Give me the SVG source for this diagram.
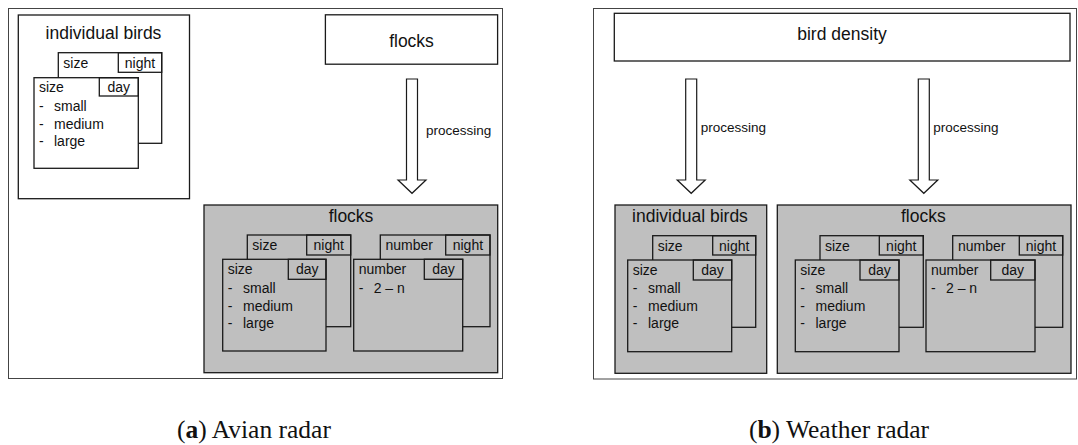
<svg xmlns="http://www.w3.org/2000/svg" width="1078" height="445" viewBox="0 0 1078 445">
<style>
text{font-family:"Liberation Sans",Arial,sans-serif;fill:#111}
.frame{fill:none;stroke:#444;stroke-width:1}
.box{fill:#fff;stroke:#1a1a1a;stroke-width:1.3}
.gbox{fill:#bfbfbf;stroke:#1a1a1a;stroke-width:1.3}
.cw{fill:#fff;stroke:#1a1a1a;stroke-width:1.3}
.cg{fill:#bfbfbf;stroke:#1a1a1a;stroke-width:1.3}
.tab{fill:none;stroke:#1a1a1a;stroke-width:1.3}
.title{font-size:17.5px;text-anchor:middle}
.t{font-size:14px}
.tc{font-size:14px;text-anchor:middle}
.proc{font-size:13.5px}
.arrow{fill:#fff;stroke:#1a1a1a;stroke-width:1.2}
.cap{font-family:"Liberation Serif","Times New Roman",serif;font-size:25.5px;text-anchor:middle}
</style>

<rect class="frame" x="8.5" y="8.5" width="494" height="370"/>
<rect class="frame" x="593.5" y="8.5" width="483" height="370.5"/>

<!-- Panel a -->
<g id="a-individual-birds">
<rect class="box" x="18.3" y="15" width="171.2" height="183.7"/>
<text class="title" x="103.5" y="38.6">individual birds</text>
<rect class="cw" x="58.3" y="52.7" width="103.4" height="90.6"/>
<rect class="tab" x="118.3" y="52.7" width="43.4" height="19.6"/>
<text class="t" x="63.3" y="67.5">size</text>
<text class="tc" x="140" y="67.5">night</text>
<rect class="cw" x="34" y="77.7" width="104.3" height="90.6"/>
<rect class="tab" x="99.3" y="77.7" width="39" height="18.3"/>
<text class="t" x="39" y="92">size</text>
<text class="tc" x="118.8" y="92">day</text>
<text class="t" x="39" y="110.7">-</text><text class="t" x="54" y="110.7">small</text>
<text class="t" x="39" y="128.5">-</text><text class="t" x="54" y="128.5">medium</text>
<text class="t" x="39" y="145.5">-</text><text class="t" x="54" y="145.5">large</text>
</g>

<g id="a-flocks-top">
<rect class="box" x="325.4" y="14.8" width="172.2" height="49.4"/>
<text class="title" x="411.5" y="46.5">flocks</text>
</g>

<g id="a-flocks-result">
<rect class="gbox" x="204" y="205" width="293.7" height="167.7"/>
<text class="title" x="351" y="222.3">flocks</text>
<rect class="cg" x="247.3" y="235" width="103.4" height="91.7"/>
<rect class="tab" x="306.7" y="235" width="44" height="20"/>
<text class="t" x="252.3" y="250">size</text>
<text class="tc" x="328.7" y="250">night</text>
<rect class="cg" x="222.7" y="259.3" width="103.3" height="91.7"/>
<rect class="tab" x="288.3" y="259.3" width="37.7" height="20"/>
<text class="t" x="227.7" y="274.3">size</text>
<text class="tc" x="307.2" y="274.3">day</text>
<text class="t" x="227.7" y="292.7">-</text><text class="t" x="243" y="292.7">small</text>
<text class="t" x="227.7" y="310.5">-</text><text class="t" x="243" y="310.5">medium</text>
<text class="t" x="227.7" y="327.5">-</text><text class="t" x="243" y="327.5">large</text>
<rect class="cg" x="380.3" y="235" width="109.7" height="91.7"/>
<rect class="tab" x="445.7" y="235" width="44.3" height="20"/>
<text class="t" x="385.5" y="250">number</text>
<text class="tc" x="467.9" y="250">night</text>
<rect class="cg" x="353.7" y="259.3" width="109" height="91.7"/>
<rect class="tab" x="424.3" y="259.3" width="38.4" height="20"/>
<text class="t" x="358.7" y="274.3">number</text>
<text class="tc" x="443.5" y="274.3">day</text>
<text class="t" x="358.7" y="292.7">-</text><text class="t" x="373.7" y="292.7">2 – n</text>
</g>

<!-- Panel b -->
<g id="b-bird-density">
<rect class="box" x="614.3" y="13.3" width="455.7" height="47.7"/>
<text class="title" x="842" y="40">bird density</text>
</g>

<g id="b-individual-birds">
<rect class="gbox" x="615" y="205" width="151.7" height="168.3"/>
<text class="title" x="690" y="222.3">individual birds</text>
<rect class="cg" x="652.7" y="235.7" width="103" height="91.6"/>
<rect class="tab" x="712.7" y="235.7" width="43" height="19.3"/>
<text class="t" x="657.7" y="250.5">size</text>
<text class="tc" x="734.2" y="250.5">night</text>
<rect class="cg" x="627.7" y="260" width="104" height="91.7"/>
<rect class="tab" x="693.3" y="260" width="38.4" height="20"/>
<text class="t" x="632.7" y="275">size</text>
<text class="tc" x="712.5" y="275">day</text>
<text class="t" x="632.7" y="293">-</text><text class="t" x="648" y="293">small</text>
<text class="t" x="632.7" y="311">-</text><text class="t" x="648" y="311">medium</text>
<text class="t" x="632.7" y="328">-</text><text class="t" x="648" y="328">large</text>
</g>

<g id="b-flocks">
<rect class="gbox" x="777.3" y="205" width="293.7" height="168.3"/>
<text class="title" x="923.3" y="222.3">flocks</text>
<rect class="cg" x="820" y="235.7" width="103.3" height="91.6"/>
<rect class="tab" x="879.3" y="235.7" width="44" height="19.3"/>
<text class="t" x="825" y="250.5">size</text>
<text class="tc" x="901.3" y="250.5">night</text>
<rect class="cg" x="795.3" y="260" width="103.7" height="91.7"/>
<rect class="tab" x="860" y="260" width="39" height="20"/>
<text class="t" x="800.3" y="275">size</text>
<text class="tc" x="879.5" y="275">day</text>
<text class="t" x="800.3" y="293">-</text><text class="t" x="815.5" y="293">small</text>
<text class="t" x="800.3" y="311">-</text><text class="t" x="815.5" y="311">medium</text>
<text class="t" x="800.3" y="328">-</text><text class="t" x="815.5" y="328">large</text>
<rect class="cg" x="952.7" y="235.7" width="110" height="91.6"/>
<rect class="tab" x="1019.3" y="235.7" width="43.4" height="19.3"/>
<text class="t" x="958" y="250.5">number</text>
<text class="tc" x="1041" y="250.5">night</text>
<rect class="cg" x="926" y="260" width="109" height="91.7"/>
<rect class="tab" x="990.7" y="260" width="44.3" height="20"/>
<text class="t" x="931" y="275">number</text>
<text class="tc" x="1012.8" y="275">day</text>
<text class="t" x="931" y="293">-</text><text class="t" x="946" y="293">2 – n</text>
</g>

<g id="connectors">
<path class="arrow" d="M406.5,79 H417.5 V180 H426 L412,193.3 L398,180 H406.5 Z"/>
<text class="proc" x="426" y="135">processing</text>
<path class="arrow" d="M685.7,79 H696.7 V180 H705.2 L691.2,193.3 L677.2,180 H685.7 Z"/>
<text class="proc" x="700.7" y="131.7">processing</text>
<path class="arrow" d="M918.3,79 H929.3 V180 H937.8 L923.8,193.3 L909.8,180 H918.3 Z"/>
<text class="proc" x="933.3" y="131.7">processing</text>
</g>

<text class="cap" x="254" y="438">(<tspan font-weight="bold">a</tspan>) Avian radar</text>
<text class="cap" x="839" y="438">(<tspan font-weight="bold">b</tspan>) Weather radar</text>
</svg>
